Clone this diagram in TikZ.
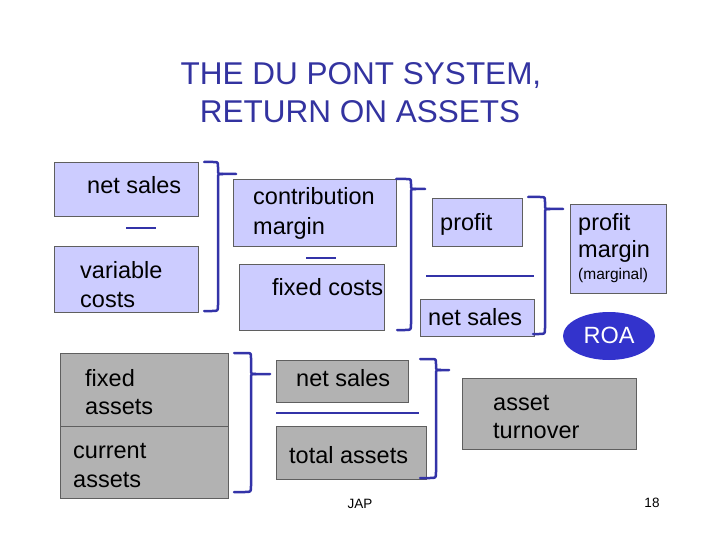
\documentclass[tikz,border=0pt]{standalone}
\usepackage{fontspec}
\setmainfont{Liberation Sans}
\usetikzlibrary{shapes.geometric}
\definecolor{lav}{HTML}{CCCCFF}
\definecolor{gry}{HTML}{B2B2B2}
\definecolor{edgec}{HTML}{5F5F5F}
\definecolor{brk}{HTML}{3333A8}
\definecolor{ttl}{HTML}{3333A0}
\definecolor{roac}{HTML}{3333CC}
\tikzset{
  boxbase/.style={draw=edgec, line width=1.2pt, inner sep=0pt, anchor=north west},
  lbox/.style={boxbase, fill=lav},
  gbox/.style={boxbase, fill=gry},
  txt/.style={anchor=base west, inner sep=0pt, font=\fontsize{23.5}{28}\selectfont},
  smalltxt/.style={anchor=base west, inner sep=0pt, font=\fontsize{15.5}{18}\selectfont},
  titletxt/.style={anchor=base, inner sep=0pt, text=ttl, font=\fontsize{31.5}{37}\selectfont},
  foottxt/.style={anchor=base, inner sep=0pt, font=\fontsize{13.5}{16}\selectfont},
  minusline/.style={draw=brk, line width=2.5pt},
  bracestyle/.style={draw=brk, line width=2.5pt, line join=round, line cap=round}
}
% #1 x top end, #2 x bottom end, #3 y top, #4 x vertical, #5 y point, #6 x pointer end, #7 y bottom
\newcommand\dpbrace[7]{%
  \draw[bracestyle] (#1,#3) -- (#4-5,#3) .. controls (#4,#3) .. (#4,#3+5)
    -- (#4,#5-4) .. controls (#4,#5) .. (#4+5,#5) -- (#6,#5);
  \draw[bracestyle] (#4+5,#5) .. controls (#4,#5) .. (#4,#5+4)
    -- (#4,#7-6) .. controls (#4,#7) .. (#4-6,#7) -- (#2,#7);
}
\begin{document}
\begin{tikzpicture}[x=1pt,y=-1pt]
\useasboundingbox (0,0) rectangle (720,540);

% title
\node[titletxt] (title1) at (361,85) {THE DU PONT SYSTEM,};
\node[titletxt] (title2) at (360,123) {RETURN ON ASSETS};

% boxes
\node[lbox, minimum width=144pt, minimum height=54pt] (ns1) at (54,162) {};
\node[lbox, minimum width=144pt, minimum height=66pt] (vc) at (54,246) {};
\node[lbox, minimum width=163pt, minimum height=67pt] (cm) at (233,179) {};
\node[lbox, minimum width=145pt, minimum height=66pt] (fc) at (239,264) {};
\node[lbox, minimum width=90pt, minimum height=48pt] (pr) at (432,198) {};
\node[lbox, minimum width=114pt, minimum height=37pt] (ns2) at (420,299) {};
\node[lbox, minimum width=96pt, minimum height=89pt] (pm) at (570,204) {};
\node[gbox, minimum width=168pt, minimum height=73pt] (fa) at (60,353) {};
\node[gbox, minimum width=168pt, minimum height=72pt] (ca) at (60,426) {};
\node[gbox, minimum width=132pt, minimum height=42pt] (ns3) at (276,360) {};
\node[gbox, minimum width=150pt, minimum height=53pt] (ta) at (276,426) {};
\node[gbox, minimum width=174pt, minimum height=71pt] (at) at (462,378) {};
\node[ellipse, fill=roac, inner sep=0pt, minimum width=92pt, minimum height=48pt] (roa) at (609,336) {};

% texts
\node[txt] (tns1) at (87,194) {net sales};
\node[txt] (tvc1) at (80,278) {variable};
\node[txt] (tvc2) at (80,307) {costs};
\node[txt] (tcm1) at (253,205) {contribution};
\node[txt] (tcm2) at (253,234) {margin};
\node[txt] (tfc) at (272,295) {fixed costs};
\node[txt] (tpr) at (440,230) {profit};
\node[txt] (tns2) at (428,325) {net sales};
\node[txt] (tpm1) at (578,230) {profit};
\node[txt] (tpm2) at (578,258) {margin};
\node[smalltxt] (tpm3) at (578,279) {(marginal)};
\node[txt, anchor=base, text=white] (troa) at (609,343) {ROA};
\node[txt] (tfa1) at (85,386) {fixed};
\node[txt] (tfa2) at (85,414) {assets};
\node[txt] (tca1) at (73,458) {current};
\node[txt] (tca2) at (73,487) {assets};
\node[txt] (tns3) at (296,386) {net sales};
\node[txt] (tta) at (289,463) {total assets};
\node[txt] (tat1) at (493,410) {asset};
\node[txt] (tat2) at (493,438) {turnover};
\node[foottxt] (jap) at (360,508) {JAP};
\node[foottxt] (pg) at (652,507) {18};

% minus / fraction lines
\draw[minusline] (126,228) -- (156,228);
\draw[minusline] (306,258) -- (336,258);
\draw[minusline] (426,276) -- (534,276);
\draw[minusline] (276,413) -- (419,413);

% braces
\dpbrace{204}{204}{162}{218}{174}{236}{311}
\dpbrace{396}{397}{179}{411}{189}{425}{330}
\dpbrace{528}{533}{197}{545}{209}{563}{334}
\dpbrace{234}{234}{353}{251}{374}{270}{492}
\dpbrace{420}{420}{359}{436}{370}{449}{478}
\end{tikzpicture}
\end{document}
